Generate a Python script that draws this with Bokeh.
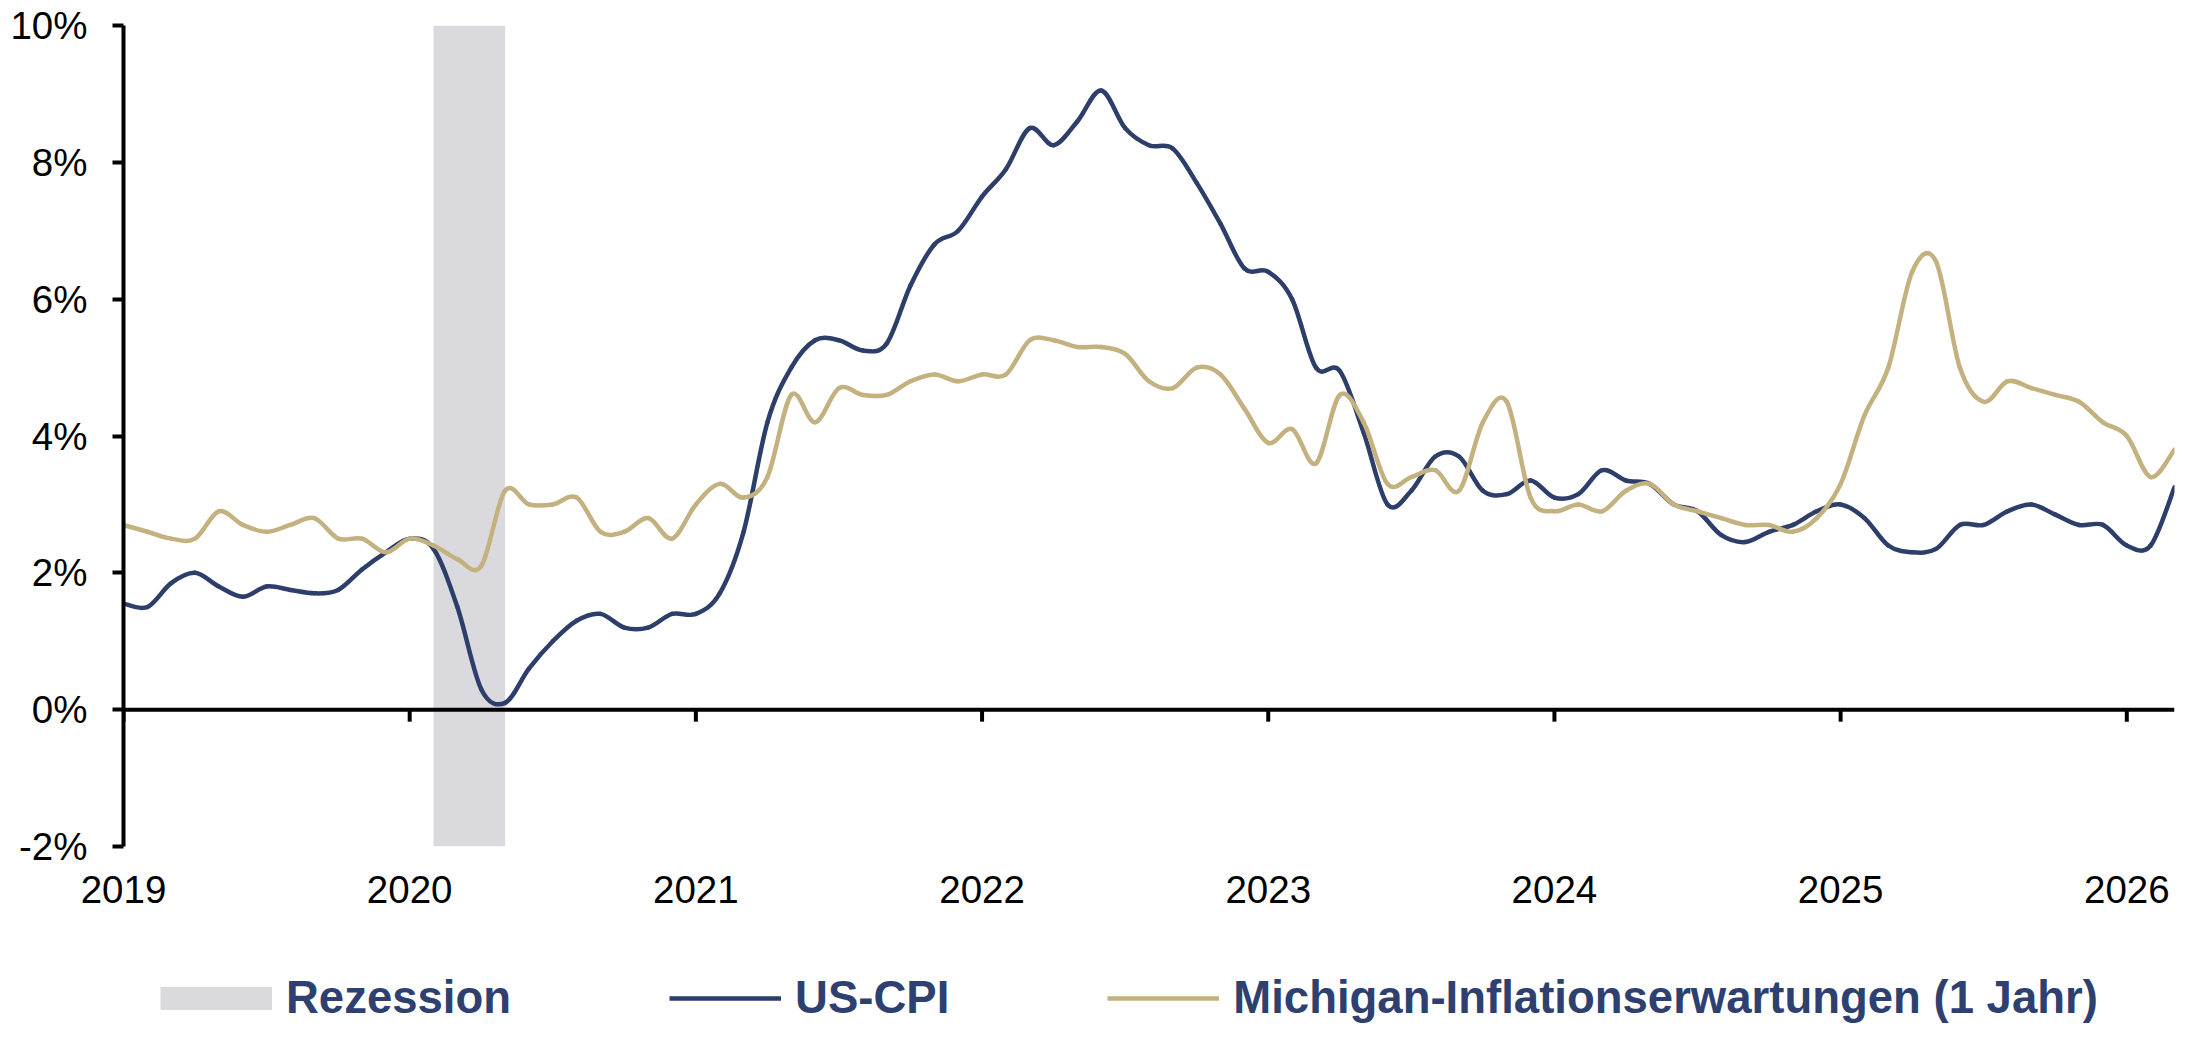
import math

from bokeh.embed import file_html
from bokeh.layouts import column
from bokeh.models import (BoxAnnotation, FixedTicker, Legend, LegendItem,
                          Range1d, Span)
from bokeh.plotting import figure
from bokeh.resources import INLINE

# Monthly year-over-year rates in %, January 2019 through March 2026
start_year = 2019
us_cpi = [
    1.55, 1.5, 1.85, 2.0, 1.8, 1.65, 1.8, 1.75, 1.7, 1.75, 2.05, 2.3,   # 2019
    2.5, 2.35, 1.5, 0.3, 0.1, 0.6, 1.0, 1.3, 1.4, 1.2, 1.2, 1.4,        # 2020
    1.4, 1.7, 2.6, 4.2, 5.0, 5.4, 5.4, 5.25, 5.35, 6.2, 6.8, 7.0,       # 2021
    7.5, 7.9, 8.5, 8.25, 8.6, 9.05, 8.5, 8.25, 8.2, 7.7, 7.1, 6.45,     # 2022
    6.4, 6.0, 5.0, 4.95, 4.05, 3.0, 3.2, 3.7, 3.7, 3.2, 3.15, 3.35,     # 2023
    3.1, 3.15, 3.5, 3.35, 3.3, 3.0, 2.9, 2.55, 2.45, 2.6, 2.7, 2.9,     # 2024
    3.0, 2.8, 2.4, 2.3, 2.35, 2.7, 2.7, 2.9, 3.0, 2.85, 2.7, 2.7,       # 2025
    2.4, 2.4, 3.25,                                                     # 2026
]
michigan_1y = [
    2.7, 2.6, 2.5, 2.5, 2.9, 2.7, 2.6, 2.7, 2.8, 2.5, 2.5, 2.3,         # 2019
    2.5, 2.4, 2.2, 2.1, 3.2, 3.0, 3.0, 3.1, 2.6, 2.6, 2.8, 2.5,         # 2020
    3.0, 3.3, 3.1, 3.4, 4.6, 4.2, 4.7, 4.6, 4.6, 4.8, 4.9, 4.8,         # 2021
    4.9, 4.9, 5.4, 5.4, 5.3, 5.3, 5.2, 4.8, 4.7, 5.0, 4.9, 4.4,         # 2022
    3.9, 4.1, 3.6, 4.6, 4.2, 3.3, 3.4, 3.5, 3.2, 4.2, 4.5, 3.1,         # 2023
    2.9, 3.0, 2.9, 3.2, 3.3, 3.0, 2.9, 2.8, 2.7, 2.7, 2.6, 2.8,         # 2024
    3.3, 4.3, 5.0, 6.4, 6.55, 5.0, 4.5, 4.8, 4.7, 4.6, 4.5, 4.2,        # 2025
    4.0, 3.4, 3.8,                                                      # 2026
]
# NBER recession: first and last month (inclusive)
recession_months = [(2020, 2), (2020, 4)]

x_ticks = [2019, 2020, 2021, 2022, 2023, 2024, 2025, 2026]
x_tick_labels = ["2019", "2020", "2021", "2022", "2023", "2024", "2025", "2026"]
y_ticks = [-2, 0, 2, 4, 6, 8, 10]
y_tick_labels = ["-2%", "0%", "2%", "4%", "6%", "8%", "10%"]

NAVY = "#2D3E6B"
TAN = "#C3B27F"
GREY = "#DAD9DD"
LEGEND_TEXT = "#2E4070"
FONT = "Liberation Sans"
LINE_W = 4.5
AXIS_W = 4

x_months = [start_year + i / 12 for i in range(len(us_cpi))]


def smooth_segments(xs, ys):
    """Cubic Bezier pieces through every point (Catmull-Rom style smoothing)."""
    n = len(xs)
    seg = dict(x0=[], y0=[], x1=[], y1=[], cx0=[], cy0=[], cx1=[], cy1=[])
    for i in range(n - 1):
        a = max(i - 1, 0)
        d = min(i + 2, n - 1)
        seg["x0"].append(xs[i]); seg["y0"].append(ys[i])
        seg["x1"].append(xs[i + 1]); seg["y1"].append(ys[i + 1])
        seg["cx0"].append(xs[i] + (xs[i + 1] - xs[a]) / 6)
        seg["cy0"].append(ys[i] + (ys[i + 1] - ys[a]) / 6)
        seg["cx1"].append(xs[i + 1] - (xs[d] - xs[i]) / 6)
        seg["cy1"].append(ys[i + 1] - (ys[d] - ys[i]) / 6)
    return seg


# ---- main chart ----
p = figure(
    width=2190, height=930,
    x_range=Range1d(x_ticks[0], x_months[-1]),
    y_range=Range1d(y_ticks[0], y_ticks[-1]),
    output_backend="svg", toolbar_location=None,
    min_border_left=123, min_border_right=16,
    min_border_top=25, min_border_bottom=84,
)
p.outline_line_color = None
p.grid.visible = False
p.background_fill_color = "white"

# recession shading across the full height
rec_left = recession_months[0][0] + (recession_months[0][1] - 1) / 12
rec_right = recession_months[1][0] + recession_months[1][1] / 12
p.add_layout(BoxAnnotation(left=rec_left, right=rec_right, fill_color=GREY,
                           fill_alpha=1.0, line_color=None, level="underlay"))

# zero line with downward year ticks
p.add_layout(Span(location=0, dimension="width", line_color="black",
                  line_width=AXIS_W, level="underlay"))
p.ray(x=x_ticks, y=[0] * len(x_ticks), length=12, length_units="screen",
      angle=-math.pi / 2, line_color="black", line_width=AXIS_W)

# series
p.bezier(**smooth_segments(x_months, us_cpi), line_color=NAVY,
         line_width=LINE_W, line_cap="round")
p.bezier(**smooth_segments(x_months, michigan_1y), line_color=TAN,
         line_width=LINE_W, line_cap="round")

# axes
yax = p.yaxis[0]
yax.ticker = FixedTicker(ticks=y_ticks)
yax.major_label_overrides = dict(zip(y_ticks, y_tick_labels))
yax.axis_line_width = AXIS_W
yax.axis_line_color = "black"
yax.major_tick_line_width = AXIS_W
yax.major_tick_line_color = "black"
yax.major_tick_out = 11
yax.major_tick_in = 0
yax.minor_tick_line_color = None
yax.major_label_standoff = 25
yax.major_label_text_font = FONT
yax.major_label_text_font_size = "38.5px"
yax.major_label_text_color = "black"

xax = p.xaxis[0]
xax.ticker = FixedTicker(ticks=x_ticks)
xax.major_label_overrides = dict(zip(x_ticks, x_tick_labels))
xax.axis_line_color = None
xax.major_tick_line_color = None
xax.major_tick_out = 0
xax.major_tick_in = 0
xax.minor_tick_line_color = None
xax.major_label_standoff = 29
xax.major_label_text_font = FONT
xax.major_label_text_font_size = "38.5px"
xax.major_label_text_color = "black"

# ---- legend strip underneath (its frame lines up with the chart's frame) ----
lg = figure(
    width=2190, height=110,
    x_range=Range1d(0, 1), y_range=Range1d(0, 1),
    output_backend="svg", toolbar_location=None,
    x_axis_location=None, y_axis_location=None,
    min_border=0,
)
lg.outline_line_color = None
lg.grid.visible = False

# swatch renderers: a single off-range vertex each, so only the legend shows them
sw_rez = lg.line(x=[-1], y=[-1], line_color=GREY, line_width=23, line_cap="butt")
sw_cpi = lg.line(x=[-1], y=[-1], line_color=NAVY, line_width=LINE_W)
sw_mich = lg.line(x=[-1], y=[-1], line_color=TAN, line_width=LINE_W)

legend = Legend(
    items=[
        LegendItem(label="Rezession", renderers=[sw_rez]),
        LegendItem(label="US-CPI", renderers=[sw_cpi]),
        LegendItem(label="Michigan-Inflationserwartungen (1 Jahr)", renderers=[sw_mich]),
    ],
    orientation="horizontal",
    location=(37, 16),
    glyph_width=112, glyph_height=50,
    label_standoff=14, spacing=158,
    padding=0, margin=0,
    label_text_font=FONT, label_text_font_style="bold",
    label_text_font_size="45.5px", label_text_color=LEGEND_TEXT,
    border_line_color=None, background_fill_alpha=0,
)
lg.add_layout(legend, "center")

open("out.html", "w").write(file_html(column(p, lg, spacing=0), INLINE))
